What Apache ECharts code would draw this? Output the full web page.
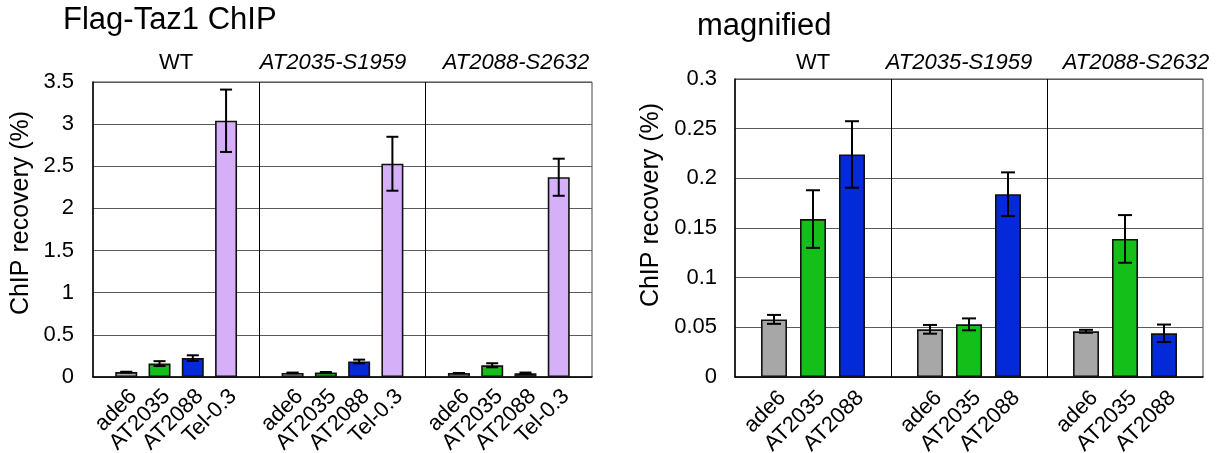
<!DOCTYPE html>
<html>
<head>
<meta charset="utf-8">
<script src="https://cdn.jsdelivr.net/npm/echarts@6/dist/echarts.min.js"></script>
<style>
html,body{margin:0;padding:0;background:#fff;}
#chart{width:1226px;height:453px;}
</style>
</head>
<body>
<div id="chart"></div>
<script>
// ---- data ----
const strains = ['WT', 'AT2035-S1959', 'AT2088-S2632'];
const primers = ['ade6', 'AT2035', 'AT2088', 'Tel-0.3'];
const magnifiedPrimers = ['ade6', 'AT2035', 'AT2088'];
const wtValues    = [0.058, 0.159, 0.224, 3.04];
const s1959Values = [0.048, 0.053, 0.184, 2.53];
const s2632Values = [0.046, 0.139, 0.044, 2.37];
const wtErrors    = [0.0045, 0.029, 0.0335, 0.37];
const s1959Errors = [0.0044, 0.006, 0.022, 0.32];
const s2632Errors = [0.0015, 0.024, 0.0088, 0.22];
const leftAxis  = { min: 0, max: 3.5, interval: 0.5 };
const rightAxis = { min: 0, max: 0.3, interval: 0.05 };
const titleLeft = 'Flag-Taz1 ChIP';
const titleRight = 'magnified';
const yName = 'ChIP recovery (%)';

// ---- styles ----
const primerColors = ['#a7a7a7', '#15bf1a', '#0429d9', '#d6aff9'];
const FONT = '"Liberation Sans", Arial, Helvetica, sans-serif';

const allValues = [wtValues, s1959Values, s2632Values];
const allErrors = [wtErrors, s1959Errors, s2632Errors];

function buildPanel(primerList) {
  const cats = [], bars = [], errs = [], seps = [];
  strains.forEach((s, g) => {
    if (g > 0) seps.push(cats.length);
    cats.push(''); bars.push('-');
    primerList.forEach((p, k) => {
      const v = allValues[g][k];
      errs.push([cats.length, v, allErrors[g][k]]);
      cats.push(p);
      bars.push({ value: v, itemStyle: { color: primerColors[k] } });
    });
  });
  cats.push(''); bars.push('-');
  return { cats, bars, errs, seps };
}

const L = buildPanel(primers);
const R = buildPanel(magnifiedPrimers);

function errRender(cap) {
  return function (params, api) {
    const x = api.value(0), v = api.value(1), e = api.value(2);
    const t = api.coord([x, v + e]);
    const b = api.coord([x, v - e]);
    const st = { stroke: '#000', lineWidth: 2 };
    return {
      type: 'group',
      children: [
        { type: 'line', shape: { x1: t[0], y1: t[1], x2: b[0], y2: b[1] }, style: st },
        { type: 'line', shape: { x1: t[0] - cap / 2, y1: t[1], x2: t[0] + cap / 2, y2: t[1] }, style: st },
        { type: 'line', shape: { x1: b[0] - cap / 2, y1: b[1], x2: b[0] + cap / 2, y2: b[1] }, style: st }
      ]
    };
  };
}

function xAxisFor(panel, gridIndex, lh, margin) {
  return {
    type: 'category', gridIndex, data: panel.cats, boundaryGap: false,
    axisLine: { show: true, lineStyle: { color: '#000', width: 1.5 } },
    axisTick: { show: false },
    axisLabel: {
      interval: 0, rotate: 45, margin: margin, color: '#000',
      fontSize: 22, fontFamily: FONT, verticalAlign: 'top', lineHeight: lh
    },
    splitLine: {
      show: true,
      interval: (i) => panel.seps.indexOf(i) >= 0,
      lineStyle: { color: '#000', width: 1 }
    }
  };
}

function yAxisFor(ax, gridIndex, margin) {
  return {
    type: 'value', gridIndex, min: ax.min, max: ax.max, interval: ax.interval,
    axisLine: { show: true, lineStyle: { color: '#000', width: 1.5 } },
    axisTick: { show: false },
    axisLabel: { color: '#000', fontSize: 22, fontFamily: FONT, margin: margin },
    splitLine: { show: true, lineStyle: { color: '#5a5a5a', width: 1 } }
  };
}

const chart = echarts.init(document.getElementById('chart'), null, { renderer: 'canvas' });
chart.setOption({
  backgroundColor: '#fff',
  animation: false,
  grid: [
    { left: 93, top: 82, width: 499, height: 295, show: true, borderColor: '#444', borderWidth: 1,
      backgroundColor: 'transparent', containLabel: false, outerBoundsMode: 'none' },
    { left: 735, top: 79, width: 468, height: 298, show: true, borderColor: '#444', borderWidth: 1,
      backgroundColor: 'transparent', containLabel: false, outerBoundsMode: 'none' }
  ],
  xAxis: [xAxisFor(L, 0, 20, 9), xAxisFor(R, 1, 24, 9)],
  yAxis: [yAxisFor(leftAxis, 0, 19), yAxisFor(rightAxis, 1, 18)],
  series: [
    { type: 'bar', xAxisIndex: 0, yAxisIndex: 0, data: L.bars, barWidth: 22,
      itemStyle: { borderColor: '#111', borderWidth: 1.6 } },
    { type: 'bar', xAxisIndex: 1, yAxisIndex: 1, data: R.bars, barWidth: 26,
      itemStyle: { borderColor: '#111', borderWidth: 1.6 } },
    { type: 'custom', xAxisIndex: 0, yAxisIndex: 0, data: L.errs, renderItem: errRender(12), clip: false, z: 5 },
    { type: 'custom', xAxisIndex: 1, yAxisIndex: 1, data: R.errs, renderItem: errRender(14), clip: false, z: 5 }
  ],
  graphic: [
    { type: 'text', left: 63, top: 5, style: { text: titleLeft, font: '31px ' + FONT, fill: '#000' } },
    { type: 'text', left: 697, top: 11, style: { text: titleRight, font: '31px ' + FONT, fill: '#000' } },
    { type: 'text', x: 176, y: 63, style: { text: strains[0], font: '22px ' + FONT, fill: '#000', align: 'center', verticalAlign: 'middle' } },
    { type: 'text', x: 333, y: 63, style: { text: strains[1], font: 'italic 22px ' + FONT, fill: '#000', align: 'center', verticalAlign: 'middle' } },
    { type: 'text', x: 516, y: 63, style: { text: strains[2], font: 'italic 22px ' + FONT, fill: '#000', align: 'center', verticalAlign: 'middle' } },
    { type: 'text', x: 813, y: 63, style: { text: strains[0], font: '22px ' + FONT, fill: '#000', align: 'center', verticalAlign: 'middle' } },
    { type: 'text', x: 959, y: 63, style: { text: strains[1], font: 'italic 22px ' + FONT, fill: '#000', align: 'center', verticalAlign: 'middle' } },
    { type: 'text', x: 1136, y: 63, style: { text: strains[2], font: 'italic 22px ' + FONT, fill: '#000', align: 'center', verticalAlign: 'middle' } },
    { type: 'text', x: 21.5, y: 213, rotation: Math.PI / 2, style: { text: yName, font: '25px ' + FONT, fill: '#000', align: 'center', verticalAlign: 'middle' } },
    { type: 'text', x: 651, y: 205, rotation: Math.PI / 2, style: { text: yName, font: '25px ' + FONT, fill: '#000', align: 'center', verticalAlign: 'middle' } }
  ]
});
</script>
</body>
</html>
